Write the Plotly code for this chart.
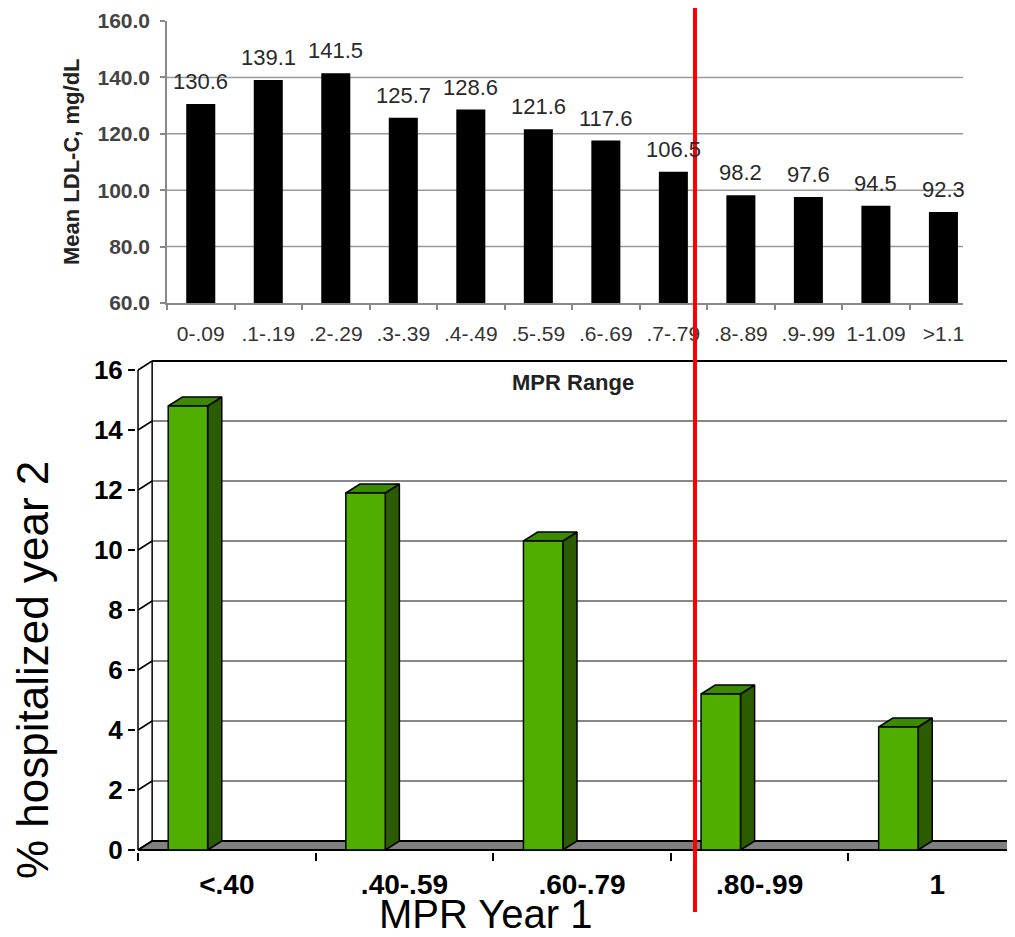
import plotly.graph_objects as go

# ---------------- Data ----------------
# Top chart: Mean LDL-C by MPR range
ldl_categories = ["0-.09", ".1-.19", ".2-.29", ".3-.39", ".4-.49", ".5-.59",
                  ".6-.69", ".7-.79", ".8-.89", ".9-.99", "1-1.09", ">1.1"]
ldl_values = [130.6, 139.1, 141.5, 125.7, 128.6, 121.6, 117.6, 106.5, 98.2, 97.6, 94.5, 92.3]
ldl_ticks = [60, 80, 100, 120, 140, 160]
ldl_grid = [80, 100, 120, 140]

# Bottom chart: % hospitalized in year 2 by MPR year 1
hosp_categories = ["<.40", ".40-.59", ".60-.79", ".80-.99", "1"]
hosp_values = [14.8, 11.9, 10.3, 5.2, 4.1]
hosp_ticks = [0, 2, 4, 6, 8, 10, 12, 14, 16]

# ---------------- Layout helpers ----------------
WIN_W, WIN_H = 1015, 937
OFF = 8                         # default page body margin
W, H = WIN_W - OFF, WIN_H - OFF
FONT = "Arial, Liberation Sans, sans-serif"


def px(x):
    return (x - OFF) / W


def py(y):
    return 1 - (y - OFF) / H


fig = go.Figure()

# ---------------- Top chart ----------------
fig.add_trace(go.Bar(
    x=ldl_categories, y=ldl_values, width=0.43,
    marker=dict(color="black", line=dict(width=0)),
    xaxis="x", yaxis="y", hoverinfo="skip",
))

annotations = []
for c, v in zip(ldl_categories, ldl_values):
    annotations.append(dict(
        x=c, y=v, xref="x", yref="y", text=f"{v:.1f}", showarrow=False,
        xanchor="center", yanchor="bottom", yshift=8,
        font=dict(family=FONT, size=22, color="#2a2a2a"),
    ))

shapes = []
for g in ldl_grid:
    shapes.append(dict(type="line", xref="x domain", x0=0, x1=1, yref="y", y0=g, y1=g,
                       line=dict(color="#9a9a9a", width=1.5), layer="below"))

# ---------------- Bottom chart (pseudo 3D) ----------------
dx = 14 / 176      # depth offset in category units
dy = 0.3           # depth offset in value units
x_left = -0.5
x_far = 5.0
bar_l, bar_r = -0.330, -0.108
top_tick = hosp_ticks[-1]

# back wall gridlines
gx, gy = [], []
for k in hosp_ticks[1:]:
    gx += [x_left + dx, x_far, None]
    gy += [k + dy, k + dy, None]
fig.add_trace(go.Scatter(x=gx, y=gy, mode="lines", line=dict(color="#111", width=1.2),
                         xaxis="x2", yaxis="y2", hoverinfo="skip"))
fig.add_trace(go.Scatter(x=[x_left + dx, x_far], y=[top_tick + dy, top_tick + dy], mode="lines",
                         line=dict(color="#000", width=2.2), xaxis="x2", yaxis="y2", hoverinfo="skip"))

# left side wall
wx, wy = [x_left + dx, x_left + dx, None, x_left, x_left, None], [dy, top_tick + dy, None, 0, top_tick, None]
for k in hosp_ticks:
    wx += [x_left, x_left + dx, None]
    wy += [k, k + dy, None]
fig.add_trace(go.Scatter(x=wx, y=wy, mode="lines", line=dict(color="#000", width=1.5),
                         xaxis="x2", yaxis="y2", hoverinfo="skip"))

# floor
fig.add_trace(go.Scatter(
    x=[x_left, x_far, x_far, x_left + dx, x_left], y=[0, 0, dy, dy, 0],
    mode="lines", fill="toself", fillcolor="#808080", line=dict(color="#000", width=2),
    xaxis="x2", yaxis="y2", hoverinfo="skip"))

# bars: side, top, front faces
sx, sy, tx, ty, fx, fy = [], [], [], [], [], []
for i, v in enumerate(hosp_values):
    l, r = i + bar_l, i + bar_r
    sx += [r, r, r + dx, r + dx, r, None]
    sy += [0, v, v + dy, dy, 0, None]
    tx += [l, l + dx, r + dx, r, l, None]
    ty += [v, v + dy, v + dy, v, v, None]
    fx += [l, l, r, r, l, None]
    fy += [0, v, v, 0, 0, None]
for xs, ys, col in [(sx, sy, "#2b5c00"), (tx, ty, "#3c8a00"), (fx, fy, "#50ae00")]:
    fig.add_trace(go.Scatter(x=xs, y=ys, mode="lines", fill="toself", fillcolor=col,
                             line=dict(color="#000", width=1.5),
                             xaxis="x2", yaxis="y2", hoverinfo="skip"))

# ---------------- Titles ----------------
annotations += [
    dict(x=px(71), y=py(162), xref="paper", yref="paper", text="<b>Mean LDL-C, mg/dL</b>",
         xanchor="center", yanchor="middle",
         textangle=-90, showarrow=False, font=dict(family=FONT, size=22, color="#222")),
    dict(x=px(573), y=py(382), xref="paper", yref="paper", text="<b>MPR Range</b>",
         xanchor="center", yanchor="middle",
         showarrow=False, font=dict(family=FONT, size=22, color="#222")),
    dict(x=px(32), y=py(670), xref="paper", yref="paper", text="% hospitalized year 2",
         xanchor="center", yanchor="middle",
         textangle=-90, showarrow=False, font=dict(family=FONT, size=44, color="#000")),
    dict(x=px(485), y=py(914), xref="paper", yref="paper", text="MPR Year 1",
         xanchor="center", yanchor="middle",
         showarrow=False, font=dict(family=FONT, size=40, color="#000")),
]

# red marker line
shapes.append(dict(type="line", xref="paper", yref="paper", x0=px(695), x1=px(695),
                   y0=py(912), y1=py(5), line=dict(color="#ff0000", width=4), layer="above"))

fig.update_layout(
    template="none",
    width=W, height=H, margin=dict(l=0, r=0, t=0, b=0, pad=0, autoexpand=False),
    paper_bgcolor="white", plot_bgcolor="rgba(0,0,0,0)",
    showlegend=False, font=dict(family=FONT),
    annotations=annotations, shapes=shapes,
    xaxis=dict(domain=[px(167), px(963)], anchor="y", type="category", automargin=False,
               range=[-0.5, 11.29], tickson="boundaries", ticks="outside", ticklen=5,
               tickcolor="#888", tickwidth=1.5, showline=True, linecolor="#888", linewidth=1.5,
               showgrid=False, tickangle=0, tickfont=dict(family=FONT, size=21, color="#333"),
               ticklabelstandoff=11, fixedrange=True),
    yaxis=dict(domain=[py(303), py(21)], anchor="x", range=[60, 160], automargin=False,
               tickvals=ldl_ticks, ticktext=[f"{t:.1f}" for t in ldl_ticks],
               ticks="outside", ticklen=5, tickcolor="#888", tickwidth=1.5,
               showline=True, linecolor="#888", linewidth=1.5, showgrid=False, zeroline=False,
               tickfont=dict(family=FONT, size=21, color="#444", weight="bold"),
               ticklabelstandoff=6, fixedrange=True),
    xaxis2=dict(domain=[px(136), 1], anchor="y2", range=[-0.5 - 2 / 176, 4.483 - OFF / 176],
                automargin=False,
                tickvals=list(range(len(hosp_categories))), ticktext=hosp_categories,
                ticks="", showline=False, showgrid=False, zeroline=False, tickangle=0,
                minor=dict(tickvals=[i - 0.5 for i in range(len(hosp_categories) + 1)],
                           ticks="outside", ticklen=8, tickcolor="#000", tickwidth=1.5),
                tickfont=dict(family=FONT, size=28, color="#000", weight="bold"),
                ticklabelstandoff=13, fixedrange=True),
    yaxis2=dict(domain=[py(851.8), py(355)], anchor="x2", range=[-0.06, 16.5], automargin=False,
                tickvals=hosp_ticks, ticks="outside", ticklen=7, tickcolor="#000", tickwidth=1.5,
                showline=False, showgrid=False, zeroline=False,
                tickfont=dict(family=FONT, size=26, color="#000", weight="bold"),
                fixedrange=True),
)

fig.write_html("out.html")
